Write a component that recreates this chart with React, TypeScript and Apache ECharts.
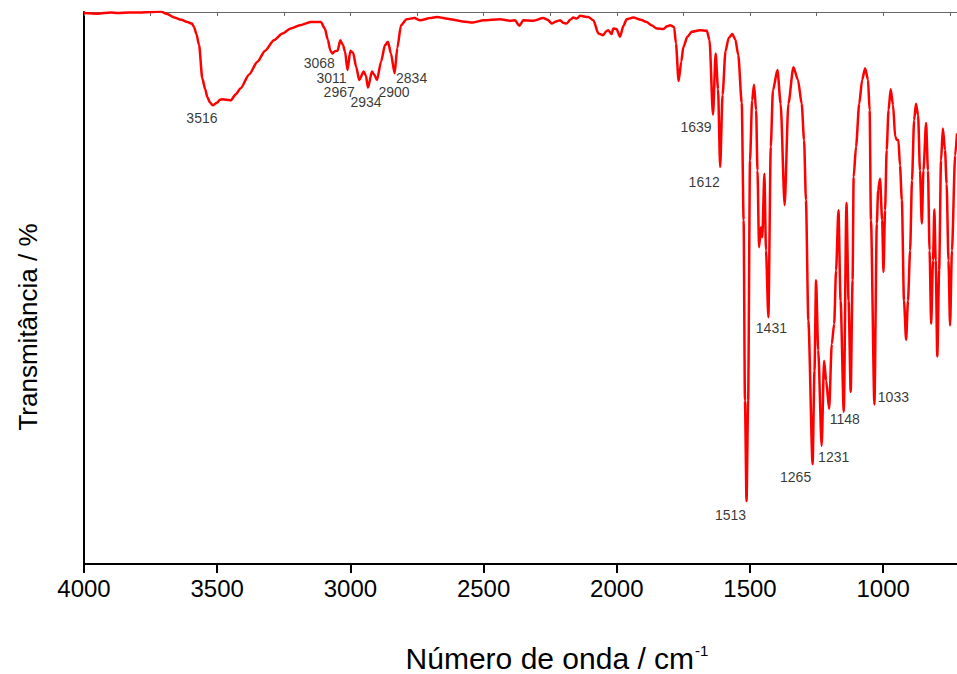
import React, { useEffect, useRef } from "react";
import * as echarts from "echarts";

// Spectrum: [wavenumber (cm-1), transmittance (%)]
const wavenumbers: number[] = [
  4000, 3950, 3900, 3876, 3830, 3790, 3750, 3712, 3690, 3662, 3635, 3612, 3595, 3587, 3578, 3568, 3556, 3545, 3537, 3527,
  3516, 3500, 3490, 3481, 3465, 3449, 3430, 3412, 3380, 3349, 3320, 3287, 3255, 3224, 3190, 3149, 3111, 3096, 3085, 3075,
  3068, 3058, 3048, 3038, 3028, 3020, 3011, 3000, 2990, 2978, 2967, 2950, 2942, 2934, 2919, 2910, 2900, 2885, 2870, 2859,
  2848, 2834, 2824, 2810, 2789, 2760, 2739, 2700, 2676, 2626, 2580, 2540, 2500, 2438, 2400, 2382, 2366, 2351, 2313, 2276,
  2260, 2244, 2228, 2213, 2200, 2188, 2175, 2163, 2150, 2138, 2107, 2088, 2069, 2051, 2040, 2032, 2020, 2013, 2001, 1988,
  1975, 1963, 1938, 1910, 1888, 1870, 1850, 1825, 1812, 1800, 1785, 1778, 1768, 1758, 1750, 1735, 1719, 1688, 1662, 1652,
  1639, 1629, 1620, 1612, 1603, 1592, 1580, 1566, 1555, 1544, 1531, 1524, 1519, 1513, 1507, 1500, 1492, 1485, 1477, 1472,
  1466, 1459, 1454, 1446, 1440, 1431, 1422, 1414, 1397, 1385, 1370, 1356, 1337, 1320, 1306, 1297, 1290, 1281, 1265, 1258,
  1252, 1244, 1231, 1222, 1214, 1203, 1193, 1184, 1177, 1168, 1160, 1148, 1138, 1130, 1122, 1115, 1111, 1102, 1090, 1079,
  1068, 1057, 1051, 1046, 1033, 1024, 1019, 1012, 1004, 999, 993, 987, 980, 972, 963, 955, 948, 943, 937, 930,
  922, 914, 907, 899, 892, 884, 877, 869, 862, 855, 849, 839, 832, 826, 820, 813, 808, 803, 797, 790,
  783, 776, 768, 762, 755, 749, 742, 730, 723,
];
const transmittance: number[] = [
  99.8, 99.7, 99.9, 99.8, 99.9, 99.9, 100.0, 100.1, 99.7, 99.0, 98.6, 98.2, 97.9, 97.3, 96.0, 94.0, 88.0, 86.0, 84.6, 83.6,
  83.1, 83.6, 84.1, 84.2, 84.1, 84.0, 85.1, 86.2, 88.7, 91.0, 93.0, 94.9, 96.1, 97.0, 97.6, 98.2, 98.2, 97.0, 95.0, 93.0,
  92.5, 92.9, 93.0, 94.9, 94.0, 92.8, 89.5, 93.0, 92.6, 90.0, 87.7, 89.2, 88.5, 86.3, 89.2, 88.6, 87.7, 91.0, 94.0, 94.6,
  92.5, 88.9, 93.5, 97.6, 98.7, 98.9, 98.5, 98.9, 99.1, 98.7, 98.3, 98.1, 98.5, 98.7, 98.4, 98.5, 97.5, 98.5, 98.4, 98.9,
  98.6, 97.9, 98.3, 98.5, 98.0, 97.9, 98.6, 99.0, 98.8, 99.3, 99.1, 98.5, 96.1, 95.8, 96.5, 96.7, 96.0, 97.0, 96.9, 95.5,
  97.5, 98.7, 99.0, 98.6, 98.2, 97.6, 97.0, 96.9, 97.4, 97.6, 97.3, 94.3, 87.5, 91.0, 93.7, 95.5, 96.4, 96.7, 96.6, 94.9,
  81.4, 92.5, 86.0, 71.9, 85.0, 92.9, 95.3, 96.0, 95.0, 92.2, 83.5, 62.3, 29.6, 11.4, 29.6, 73.1, 84.0, 86.8, 82.2, 71.3,
  57.4, 61.0, 59.2, 70.7, 56.8, 44.7, 75.6, 85.8, 89.5, 83.4, 65.0, 83.4, 90.0, 87.7, 83.4, 76.8, 65.9, 44.1, 18.1, 35.0,
  51.4, 38.7, 21.4, 36.8, 33.2, 28.1, 39.9, 43.5, 53.2, 64.1, 47.7, 27.6, 65.4, 47.7, 31.2, 51.4, 70.1, 75.6, 83.4, 87.7,
  89.8, 87.7, 82.2, 62.3, 28.9, 61.7, 67.7, 69.8, 62.3, 52.9, 64.1, 75.0, 82.2, 86.0, 83.1, 77.4, 76.8, 76.8, 72.2, 65.9,
  47.7, 40.6, 47.7, 56.8, 69.5, 80.4, 83.4, 81.3, 71.3, 61.7, 71.3, 79.9, 71.3, 56.8, 43.5, 55.0, 64.2, 55.0, 37.6, 53.2,
  73.1, 78.9, 75.0, 68.9, 55.0, 43.2, 56.8, 74.0, 78.0,
];

// Labelled bands (cm-1)
const peakBands: number[] = [3516, 3068, 3011, 2967, 2934, 2900, 2834, 1639, 1612, 1513, 1431, 1265, 1231, 1148, 1033];

// Axis tick values
const bottomTicks: number[] = [1000, 1500, 2000, 2500, 3000, 3500, 4000];
const topTicks: number[] = [750, 1000, 1250, 1500, 1750, 2000, 2250, 2500, 2750, 3000, 3250, 3500, 3750, 4000];

const X_MIN = 723;
const X_MAX = 4000;

// label offsets (px) relative to each band minimum (style only)
const peakLabelOffsets: number[][] = [
  [-11, 13], [-13, 10], [-16, 8], [-20, 12], [-2, 14], [17, 12], [17, 5],
  [-17, 12], [-16, 15], [-16, 14], [3, 11], [-17, 13], [12, 11], [1, 7], [19, -7],
];

export default function App() {
  const ref = useRef<HTMLDivElement>(null);

  useEffect(() => {
    if (!ref.current) return;
    const chart = echarts.init(ref.current, null, { renderer: "svg" });
    const lineData = wavenumbers.map((w, i) => [w, transmittance[i]]);
    const peakData = peakBands.map((w, i) => {
      const idx = wavenumbers.indexOf(w);
      return {
        value: [w, transmittance[idx]],
        name: String(w),
        label: { offset: peakLabelOffsets[i] },
      };
    });
    const font = "'Liberation Sans', Arial, Helvetica, sans-serif";

    chart.setOption({
      animation: false,
      backgroundColor: "#ffffff",
      grid: { left: 84, right: 0, top: 12, bottom: 110, containLabel: false },
      xAxis: [
        {
          type: "value",
          position: "bottom",
          min: X_MIN,
          max: X_MAX,
          inverse: true,
          axisLine: { show: true, onZero: false, lineStyle: { color: "#000", width: 2 } },
          axisTick: { show: true, length: 9, customValues: bottomTicks, lineStyle: { color: "#000", width: 2 } },
          axisLabel: {
            customValues: bottomTicks,
            fontSize: 24,
            color: "#000",
            margin: 12,
            fontFamily: font,
            formatter: (v: number) => String(v),
          },
          splitLine: { show: false },
        },
        {
          type: "value",
          position: "top",
          min: X_MIN,
          max: X_MAX,
          inverse: true,
          axisLine: { show: true, onZero: false, lineStyle: { color: "#666", width: 1 } },
          axisTick: { show: true, inside: true, length: 4, customValues: topTicks, lineStyle: { color: "#666", width: 1 } },
          axisLabel: { show: false },
          splitLine: { show: false },
        },
      ],
      yAxis: {
        type: "value",
        min: 0,
        max: 100,
        axisLine: { show: true, lineStyle: { color: "#000", width: 2 } },
        axisTick: { show: false },
        axisLabel: { show: false },
        splitLine: { show: false },
      },
      graphic: [
        {
          type: "text",
          x: 557,
          y: 658,
          style: {
            text: "{a|Número de onda / cm}{b|-1}",
            textAlign: "center",
            textVerticalAlign: "middle",
            rich: {
              a: { fontSize: 30, fontFamily: font, fill: "#000", verticalAlign: "bottom" },
              b: { fontSize: 15, fontFamily: font, fill: "#000", verticalAlign: "top", padding: [0, 0, 0, 1] },
            },
          },
        },
        {
          type: "text",
          x: 28,
          y: 327,
          rotation: Math.PI / 2,
          style: {
            text: "Transmitância / %",
            textAlign: "center",
            textVerticalAlign: "middle",
            fontSize: 26,
            fontFamily: font,
            fill: "#000",
          },
        },
      ],
      series: [
        {
          type: "line",
          xAxisIndex: 0,
          data: lineData,
          showSymbol: false,
          symbol: "none",
          smooth: 0.25,
          smoothMonotone: "x",
          lineStyle: { color: "#ff0000", width: 2.5, join: "round" },
          silent: true,
          z: 2,
        },
        {
          type: "scatter",
          xAxisIndex: 0,
          data: peakData,
          symbolSize: 0,
          silent: true,
          z: 3,
          label: {
            show: true,
            position: "inside",
            formatter: (p: any) => p.name,
            fontSize: 14,
            fontFamily: font,
            color: "#000",
          },
        },
      ],
    });
    return () => chart.dispose();
  }, []);

  return (
    <div
      ref={ref}
      style={{ position: "fixed", left: 0, top: 0, width: 957, height: 674, background: "#fff" }}
    />
  );
}
